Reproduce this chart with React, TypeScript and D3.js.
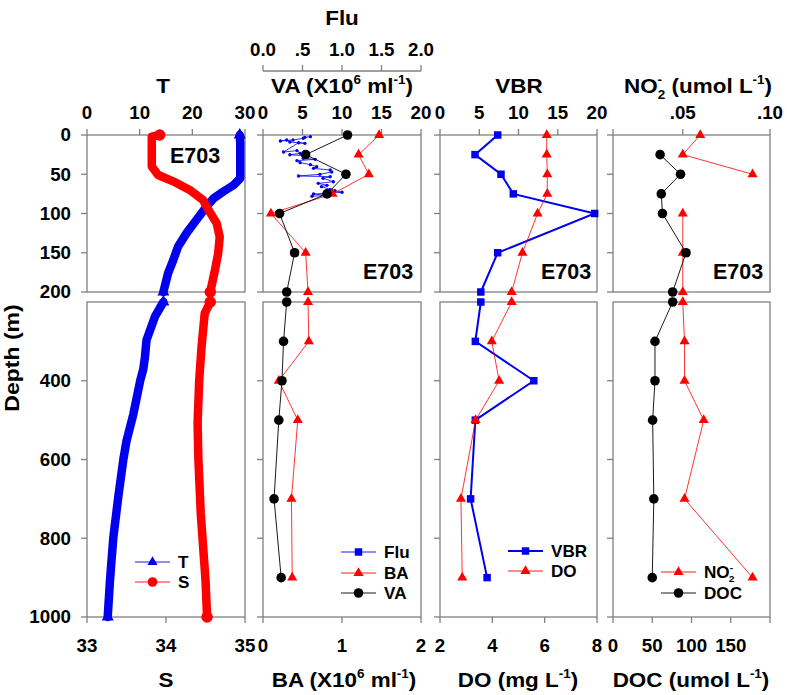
import React from "react";
import * as d3 from "d3";

// ---------- DATA ----------
const depths = [0, 25, 50, 75, 100, 150, 200, 300, 400, 500, 700, 900];
const baValues = [1.47, 1.21, 1.34, 0.88, 0.1, 0.54, 0.57, 0.58, 0.2, 0.44, 0.36, 0.37];
const vaValues = [10.7, 5.4, 10.5, 8.1, 2.1, 4.0, 3.0, 2.6, 2.4, 2.0, 1.4, 2.3];
const vbrValues = [7.35, 4.46, 7.77, 9.34, 19.7, 7.35, 5.2, 4.5, 11.95, 4.5, 3.9, 6.0];
const doValues = [6.08, 6.08, 6.1, 6.1, 5.73, 5.15, 4.74, 3.98, 4.26, 3.36, 2.8, 2.85];
const no2Values: (number | null)[] = [0.06, 0.05, 0.09, null, 0.05, 0.05, 0.05, 0.051, 0.051, 0.062, 0.051, 0.09];
const docValues: (number | null)[] = [null, 60, 86, 61.5, 63, 93, 76, 53.5, 53.5, 50.5, 52, 50];

const fluDepths = [2.1, 3.0, 4.2, 6.4, 7.6, 6.4, 8.9, 10.6, 9.8, 21.7, 19.9, 23.4, 25.1, 26.8, 29.7, 31.0, 32.7, 35.2, 37.8, 40.3, 42.5, 44.6, 47.1, 50.1, 52.2, 53.1, 55.2, 59.5, 61.6, 64.1, 65.8, 69.2, 70.9, 73.0, 75.2, 76.9, 78.1];
const fluValues = [0.6, 0.53, 0.51, 0.38, 0.22, 0.3, 0.34, 0.53, 0.45, 0.26, 0.43, 0.47, 0.34, 0.57, 0.51, 0.66, 0.43, 0.47, 0.6, 0.68, 0.64, 0.85, 0.87, 0.72, 0.45, 0.85, 0.76, 0.89, 0.7, 0.81, 0.74, 0.85, 0.91, 1.0, 0.64, 0.81, 0.62];

const tDepths = [0, 10, 30, 55, 64, 72, 81, 91, 108, 125, 142, 159, 176, 200, 237, 297, 340, 370, 400, 485, 553, 600, 694, 798, 906, 1000];
const tValues = [29.0, 29.1, 29.1, 29.1, 27.8, 25.9, 24.0, 22.7, 20.8, 18.9, 17.3, 16.4, 15.4, 14.5, 12.9, 11.3, 11.0, 10.7, 10.1, 8.8, 7.5, 6.9, 5.95, 5.0, 4.37, 3.93];
const sDepths = [0, 2, 40, 51, 59, 70, 83, 96, 112, 130, 151, 172, 200, 229, 314, 400, 508, 600, 737, 822, 906, 1000];
const sValues = [33.92, 33.82, 33.82, 33.9, 34.09, 34.3, 34.47, 34.54, 34.64, 34.68, 34.66, 34.62, 34.56, 34.49, 34.45, 34.42, 34.4, 34.41, 34.44, 34.47, 34.5, 34.52];

const depthTicksTop = [0, 50, 100, 150, 200];
const depthTicksBot = [400, 600, 800, 1000];
const tTicks = [0, 10, 20, 30];
const sTicks = [33, 34, 35];
const vaTicks = [0, 5, 10, 15, 20];
const fluTicks = [0, 0.5, 1.0, 1.5, 2.0];
const fluTickLabels = ["0.0", ".5", "1.0", "1.5", "2.0"];
const baTicks = [0, 1, 2];
const vbrTicks = [0, 5, 10, 15, 20];
const doTicks = [2, 4, 6, 8];
const no2Ticks = [0.01, 0.05, 0.1];
const no2TickLabels = ["", ".05", ".10"];
const docTicks = [0, 50, 100, 150, 200];
const docTickLabels = ["0", "50", "100", "150", ""];

// ---------- LAYOUT ----------
const W = 787, H = 695;
const yTop = d3.scaleLinear().domain([0, 200]).range([135, 292]);
const yBot = d3.scaleLinear().domain([200, 1000]).range([302, 617]);
const panels = [
  [87, 245],
  [263, 421],
  [440, 597],
  [613, 770],
];
const xT = d3.scaleLinear().domain([0, 30]).range(panels[0]);
const xS = d3.scaleLinear().domain([33, 35]).range(panels[0]);
const xVA = d3.scaleLinear().domain([0, 20]).range(panels[1]);
const xBA = d3.scaleLinear().domain([0, 2]).range(panels[1]);
const xFlu = d3.scaleLinear().domain([0, 2]).range(panels[1]);
const xVBR = d3.scaleLinear().domain([0, 20]).range(panels[2]);
const xDO = d3.scaleLinear().domain([2, 8]).range(panels[2]);
const xNO2 = d3.scaleLinear().domain([0.01, 0.1]).range(panels[3]);
const xDOC = d3.scaleLinear().domain([0, 200]).range(panels[3]);

const GREY = "#808080";
const BLUE = "#0000ee";
const RED = "#ff0000";
const FONT = "'Liberation Sans', Arial, sans-serif";
const SX = 1.07;

type Pt = { d: number; v: number | null };
const zipPts = (ds: number[], vs: (number | null)[]): Pt[] => ds.map((d, i) => ({ d, v: vs[i] }));

const sym = (type: any, size: number) => d3.symbol().type(type).size(size)() as string;
const TRI = sym(d3.symbolTriangle, 44);
const CIR = sym(d3.symbolCircle, 72);
const SQR = sym(d3.symbolSquare, 56);
const DOT = sym(d3.symbolCircle, 9);

function Series({ pts, x, color, width, marker, seg }: any) {
  const sel = pts.filter((p: Pt) => (seg === "top" ? p.d <= 200 : p.d >= 200));
  const y = seg === "top" ? yTop : yBot;
  const line = d3
    .line<Pt>()
    .defined((p) => p.v !== null)
    .x((p) => x(p.v as number))
    .y((p) => y(p.d));
  return (
    <g>
      <path d={line(sel) || ""} fill="none" stroke={color} strokeWidth={width} />
      {sel
        .filter((p: Pt) => p.v !== null)
        .map((p: Pt, i: number) => (
          <path key={i} d={marker} transform={`translate(${x(p.v as number)},${y(p.d)})`} fill={color} />
        ))}
    </g>
  );
}

function Thick({ pts, x, color, seg, marker }: any) {
  const sel = pts.filter((p: Pt) => (seg === "top" ? p.d <= 200 : p.d >= 200));
  const y = seg === "top" ? yTop : yBot;
  const line = d3
    .line<Pt>()
    .x((p) => x(p.v as number))
    .y((p) => y(p.d));
  const first = sel[0];
  const last = sel[sel.length - 1];
  return (
    <g>
      <path d={line(sel) || ""} fill="none" stroke={color} strokeWidth={8.5} strokeLinejoin="round" strokeLinecap="round" />
      {[first, last].map((p: Pt, i: number) => (
        <path key={i} d={marker} transform={`translate(${x(p.v as number)},${y(p.d)}) scale(1.2)`} fill={color} />
      ))}
    </g>
  );
}

function Txt({ x, y, size, anchor = "middle", children, sx = SX }: any) {
  return (
    <text
      transform={`translate(${x},${y}) scale(${sx},1)`}
      textAnchor={anchor}
      fontFamily={FONT}
      fontWeight="bold"
      fontSize={size}
      fill="#000"
    >
      {children}
    </text>
  );
}

type Part = { t: string; sup?: boolean; sub?: boolean; dx?: number };
function Rich({ x, y, parts, size, anchor = "middle" }: any) {
  let cur = 0;
  return (
    <Txt x={x} y={y} size={size} anchor={anchor}>
      {parts.map((p: Part, i: number) => {
        const target = p.sup ? -size * 0.42 : p.sub ? size * 0.28 : 0;
        const dy = target - cur;
        cur = target;
        return (
          <tspan key={i} dy={dy} dx={p.dx || 0} fontSize={p.sup || p.sub ? size * 0.6 : size}>
            {p.t}
          </tspan>
        );
      })}
    </Txt>
  );
}

function Frame({ x0, x1, y0, y1 }: any) {
  return <rect x={x0} y={y0} width={x1 - x0} height={y1 - y0} fill="none" stroke={GREY} strokeWidth={1.3} />;
}

function TopAxis({ scale, ticks, labels, y = 135, labelY = 119 }: any) {
  return (
    <g>
      {ticks.map((t: number, i: number) => (
        <g key={i}>
          <line x1={scale(t)} x2={scale(t)} y1={y} y2={y - 6} stroke={GREY} strokeWidth={1.3} />
          <Txt x={scale(t)} y={labelY} size={17.5}>
            {labels ? labels[i] : String(t)}
          </Txt>
        </g>
      ))}
    </g>
  );
}

function BottomAxis({ scale, ticks, labels, y = 617, labelY = 652 }: any) {
  return (
    <g>
      {ticks.map((t: number, i: number) => (
        <g key={i}>
          <line x1={scale(t)} x2={scale(t)} y1={y} y2={y + 6} stroke={GREY} strokeWidth={1.3} />
          <Txt x={scale(t)} y={labelY} size={17.5}>
            {labels ? labels[i] : String(t)}
          </Txt>
        </g>
      ))}
    </g>
  );
}

function LeftTicks({ x0, showLabels }: any) {
  const all = [
    ...depthTicksTop.map((t) => ({ t, y: yTop(t) })),
    ...depthTicksBot.map((t) => ({ t, y: yBot(t) })),
  ];
  return (
    <g>
      {all.map(({ t, y }, i) => (
        <g key={i}>
          <line x1={x0 - 6} x2={x0} y1={y} y2={y} stroke={GREY} strokeWidth={1.3} />
          {showLabels && (
            <Txt x={71} y={y + 6.3} size={17.5} anchor="end">
              {t}
            </Txt>
          )}
        </g>
      ))}
    </g>
  );
}

function LegendRow({ x, y, color, marker, label, width = 0.9, labelParts }: any) {
  return (
    <g>
      <line x1={x} x2={x + 35} y1={y} y2={y} stroke={color} strokeWidth={width} />
      <path d={marker} transform={`translate(${x + 17.5},${y})`} fill={color} />
      {labelParts ? (
        <Rich x={x + 43} y={y + 5.8} parts={labelParts} size={16} anchor="start" />
      ) : (
        <Txt x={x + 43} y={y + 5.8} size={16} anchor="start">
          {label}
        </Txt>
      )}
    </g>
  );
}

function E703({ x, y }: any) {
  return (
    <Txt x={x} y={y} size={21.5} sx={1.0}>
      E703
    </Txt>
  );
}

export default function App() {
  const ba = zipPts(depths, baValues);
  const va = zipPts(depths, vaValues);
  const vbr = zipPts(depths, vbrValues);
  const dov = zipPts(depths, doValues);
  const no2 = zipPts(depths, no2Values);
  const doc = zipPts(depths, docValues);
  const flu = zipPts(fluDepths, fluValues);
  const tp = zipPts(tDepths, tValues);
  const sp = zipPts(sDepths, sValues);
  const segs = ["top", "bot"];

  return (
    <svg width={W} height={H} style={{ position: "absolute", left: 0, top: 0, background: "#fff" }}>
      <rect width={W} height={H} fill="#fff" />
      {/* frames */}
      {panels.map(([a, b], i) => (
        <g key={i}>
          <Frame x0={a} x1={b} y0={135} y1={292} />
          <Frame x0={a} x1={b} y0={302} y1={617} />
          <LeftTicks x0={a} showLabels={i === 0} />
        </g>
      ))}

      {/* top axes */}
      <TopAxis scale={xT} ticks={tTicks} />
      <TopAxis scale={xVA} ticks={vaTicks} />
      <TopAxis scale={xVBR} ticks={vbrTicks} />
      <TopAxis scale={xNO2} ticks={no2Ticks} labels={no2TickLabels} />
      {/* Flu axis */}
      <line x1={xFlu(0)} x2={xFlu(2)} y1={71} y2={71} stroke={GREY} strokeWidth={1.3} />
      <TopAxis scale={xFlu} ticks={fluTicks} labels={fluTickLabels} y={71} labelY={55.5} />

      {/* bottom axes */}
      <BottomAxis scale={xS} ticks={sTicks} />
      <BottomAxis scale={xBA} ticks={baTicks} />
      <BottomAxis scale={xDO} ticks={doTicks} />
      <BottomAxis scale={xDOC} ticks={docTicks} labels={docTickLabels} />

      {/* titles */}
      <Rich x={342} y={25} size={21} parts={[{ t: "Flu" }]} />
      <Rich x={163} y={93} size={21} parts={[{ t: "T" }]} />
      <Rich x={342} y={93} size={21} parts={[{ t: "VA (X10" }, { t: "6", sup: true }, { t: " ml" }, { t: "-1", sup: true }, { t: ")" }]} />
      <Rich x={519} y={93} size={21} parts={[{ t: "VBR" }]} />
      <Rich
        x={698}
        y={93}
        size={21}
        parts={[{ t: "NO" }, { t: "-", sup: true }, { t: "2", sub: true, dx: -4 }, { t: " (umol L" }, { t: "-1", sup: true }, { t: ")" }]}
      />
      <Rich x={166} y={687} size={21} parts={[{ t: "S" }]} />
      <Rich x={344} y={687} size={21} parts={[{ t: "BA (X10" }, { t: "6", sup: true }, { t: " ml" }, { t: "-1", sup: true }, { t: ")" }]} />
      <Rich x={518} y={687} size={21} parts={[{ t: "DO (mg L" }, { t: "-1", sup: true }, { t: ")" }]} />
      <Rich x={691} y={687} size={21} parts={[{ t: "DOC (umol L" }, { t: "-1", sup: true }, { t: ")" }]} />
      <text
        transform="translate(19,358) rotate(-90) scale(1.15,1)"
        textAnchor="middle"
        fontFamily={FONT}
        fontWeight="bold"
        fontSize={20}
      >
        Depth (m)
      </text>

      {/* panel 1: T & S */}
      {segs.map((s) => (
        <g key={"ts" + s}>
          <Thick pts={tp} x={xT} color={BLUE} seg={s} marker={TRI} />
          <Thick pts={sp} x={xS} color={RED} seg={s} marker={CIR} />
        </g>
      ))}

      {/* panel 2 */}
      <Series pts={flu} x={xFlu} color={BLUE} width={0.8} marker={DOT} seg="top" />
      {segs.map((s) => (
        <g key={"p2" + s}>
          <Series pts={ba} x={xBA} color={RED} width={0.8} marker={TRI} seg={s} />
          <Series pts={va} x={xVA} color="#000" width={0.9} marker={CIR} seg={s} />
        </g>
      ))}

      {/* panel 3 */}
      {segs.map((s) => (
        <g key={"p3" + s}>
          <Series pts={vbr} x={xVBR} color={BLUE} width={2} marker={SQR} seg={s} />
          <Series pts={dov} x={xDO} color={RED} width={0.8} marker={TRI} seg={s} />
        </g>
      ))}

      {/* panel 4 */}
      {segs.map((s) => (
        <g key={"p4" + s}>
          <Series pts={no2} x={xNO2} color={RED} width={0.8} marker={TRI} seg={s} />
          <Series pts={doc} x={xDOC} color="#000" width={0.9} marker={CIR} seg={s} />
        </g>
      ))}

      {/* E703 labels */}
      <E703 x={195} y={163} />
      <E703 x={388} y={279} />
      <E703 x={566} y={279} />
      <E703 x={738} y={279} />

      {/* legends */}
      <LegendRow x={135} y={562} color={BLUE} marker={TRI} label="T" />
      <LegendRow x={135} y={582} color={RED} marker={CIR} label="S" />
      <LegendRow x={341} y={552} color={BLUE} marker={SQR} label="Flu" />
      <LegendRow x={341} y={573} color={RED} marker={TRI} label="BA" />
      <LegendRow x={341} y={593} color="#000" marker={CIR} label="VA" />
      <LegendRow x={508} y={551} color={BLUE} marker={SQR} label="VBR" width={2} />
      <LegendRow x={508} y={571} color={RED} marker={TRI} label="DO" />
      <LegendRow
        x={661}
        y={572}
        color={RED}
        marker={TRI}
        labelParts={[{ t: "NO" }, { t: "-", sup: true }, { t: "2", sub: true, dx: -4 }]}
      />
      <LegendRow x={661} y={593} color="#000" marker={CIR} label="DOC" />
    </svg>
  );
}
